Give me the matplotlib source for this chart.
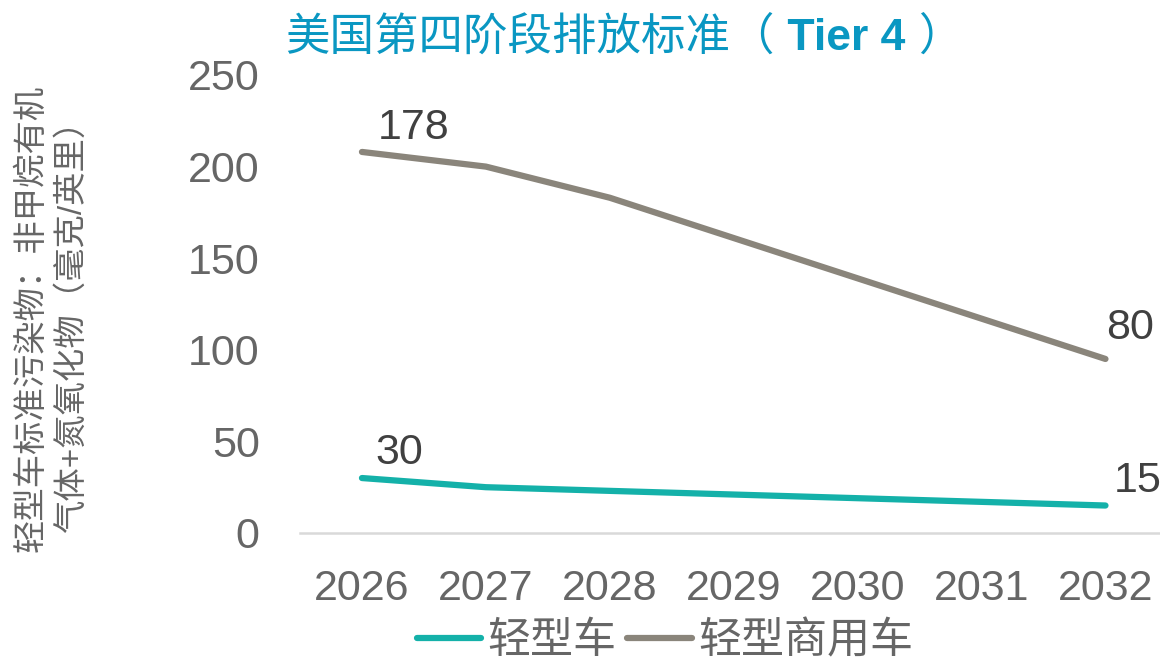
import matplotlib
matplotlib.use("Agg")
import matplotlib.pyplot as plt
from matplotlib.offsetbox import TextArea, HPacker, AnchoredOffsetbox

plt.rcParams['font.family'] = ['Liberation Sans', 'Noto Sans CJK SC']

years = ["2026", "2027", "2028", "2029", "2030", "2031", "2032"]
light_vehicle = [30, 25, 23, 21, 19, 17, 15]
light_commercial = [178, 175, 160, 140, 120, 100, 80]

teal = "#14B1A9"
gray = "#8A857B"
text_gray = "#666666"
title_blue = "#0A97C2"

# stacked line chart, like the source
stacked = [a + b for a, b in zip(light_vehicle, light_commercial)]
x = list(range(len(years)))

fig = plt.figure(figsize=(11.6, 6.63), dpi=100)
ax = fig.add_axes([300 / 1160, 130 / 663, 860 / 1160, 458 / 663])

ax.plot(x, light_vehicle, color=teal, lw=4.5, solid_capstyle='round', label="轻型车")
ax.plot(x, stacked, color=gray, lw=4.5, solid_capstyle='round', label="轻型商用车")

ax.set_xlim(-0.5, 6.44)
ax.set_ylim(0, 250)
ax.set_xticks(x)
ax.set_xticklabels(years)
ax.set_yticks([0, 50, 100, 150, 200, 250])
ax.tick_params(length=0, labelsize=31, colors=text_gray)
ax.tick_params(axis='x', pad=26)
ax.tick_params(axis='y', pad=29)
for s in ['top', 'right', 'left']:
    ax.spines[s].set_visible(False)
ax.spines['bottom'].set_color("#D9D9D9")
ax.spines['bottom'].set_linewidth(1.8)

lab = dict(fontsize=31, color="#404040", ha='center', va='center', textcoords='offset points')
ax.annotate(str(light_commercial[0]), (0, stacked[0]), xytext=(37, 17), **lab)
ax.annotate(str(light_commercial[-1]), (6, stacked[-1]), xytext=(18, 22), **lab)
ax.annotate(str(light_vehicle[0]), (0, light_vehicle[0]), xytext=(27, 18), **lab)
ax.annotate(str(light_vehicle[-1]), (6, light_vehicle[-1]), xytext=(23, 18), **lab)

fig.text(0.045, 0.52, "轻型车标准污染物：非甲烷有机\n气体+氮氧化物（毫克/英里）",
         rotation=90, ha='center', va='center', fontsize=24, color=text_gray,
         linespacing=1.35)

# title: chinese regular + bold "Tier 4"
t1 = TextArea("美国第四阶段排放标准（", textprops=dict(fontsize=32, color=title_blue))
t2 = TextArea(" Tier 4 ", textprops=dict(fontsize=32, color=title_blue, fontweight='bold'))
t3 = TextArea("）", textprops=dict(fontsize=32, color=title_blue))
box = HPacker(children=[t1, t2, t3], align="baseline", pad=0, sep=0)
ab = AnchoredOffsetbox(loc='center', child=box, frameon=False,
                       bbox_to_anchor=(624 / 1160, 1 - 38 / 663),
                       bbox_transform=fig.transFigure, borderpad=0)
fig.add_artist(ab)

fig.legend(loc='center', bbox_to_anchor=(665 / 1160, 1 - 642 / 663), ncol=2,
           frameon=False, fontsize=31, labelcolor=text_gray, handlelength=1.5,
           handletextpad=0.15, columnspacing=0.25, borderpad=0)

fig.savefig("out.png", dpi=100)
